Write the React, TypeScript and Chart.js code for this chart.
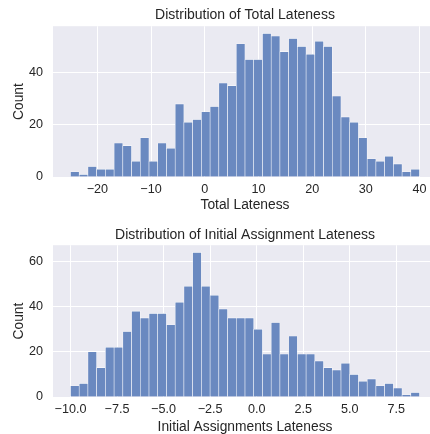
import React, { useEffect, useRef } from "react";
import { Chart, registerables } from "chart.js";

Chart.register(...registerables);

// ---- Data: Total Lateness histogram ----
const TOTAL_COUNTS = [
  2, 1, 4, 3, 3, 13, 12, 6, 15, 6, 13, 11, 28, 21, 22, 25, 27, 36, 35, 51,
  45, 45, 55, 54, 48, 53, 50, 47, 52, 50, 31, 23, 21, 15, 7, 6, 8, 5, 2, 3,
];
const TOTAL_BIN_START = -25;
const TOTAL_BIN_END = 40;
const TOTAL_X_TICKS = [-20, -10, 0, 10, 20, 30, 40];
const TOTAL_X_LABELS = ["\u221220", "\u221210", "0", "10", "20", "30", "40"];
const TOTAL_Y_TICKS = [0, 20, 40];
const TOTAL_Y_LABELS = ["0", "20", "40"];

// ---- Data: Initial Assignment Lateness histogram ----
const INITIAL_COUNTS = [
  5, 6, 20, 13, 22, 22, 29, 38, 35, 37, 37, 32, 42, 49, 64, 49, 45, 39, 35, 35,
  35, 30, 19, 33, 19, 27, 19, 19, 16, 13, 12, 15, 10, 7, 8, 5, 6, 4, 1, 2,
];
const INITIAL_BIN_START = -10;
const INITIAL_BIN_END = 8.75;
const INITIAL_X_TICKS = [-10, -7.5, -5, -2.5, 0, 2.5, 5, 7.5];
const INITIAL_X_LABELS = ["\u221210.0", "\u22127.5", "\u22125.0", "\u22122.5", "0.0", "2.5", "5.0", "7.5"];
const INITIAL_Y_TICKS = [0, 20, 40, 60];
const INITIAL_Y_LABELS = ["0", "20", "40", "60"];

const FONT = "'Liberation Sans', Arial, Helvetica, sans-serif";
const TEXT = "#262626";
const BG = "#eaeaf2";
const BAR = "rgb(106,137,192)";

const bgPlugin = {
  id: "plotBg",
  beforeDraw(chart: any) {
    const { ctx, chartArea } = chart;
    if (!chartArea) return;
    ctx.save();
    ctx.fillStyle = BG;
    ctx.fillRect(chartArea.left, chartArea.top, chartArea.right - chartArea.left, chartArea.bottom - chartArea.top);
    ctx.restore();
  },
};

type HistProps = {
  counts: number[];
  binStart: number;
  binEnd: number;
  xTicks: number[];
  xLabels: string[];
  yTicks: number[];
  yLabels: string[];
  title: string;
  xTitle: string;
  width: number;
  height: number;
  titlePad: { top: number; bottom: number };
  xScaleHeight: number;
  xTitlePadBottom: number;
};

function Histogram(p: HistProps) {
  const ref = useRef<HTMLCanvasElement | null>(null);
  useEffect(() => {
    if (!ref.current) return;
    const n = p.counts.length;
    const w = (p.binEnd - p.binStart) / n;
    const data = p.counts.map((c, i) => ({ x: p.binStart + (i + 0.5) * w, y: c }));
    const span = p.binEnd - p.binStart;
    const xMin = p.binStart - span * 0.05;
    const xMax = p.binEnd + span * 0.05;
    const yMax = Math.max(...p.counts) * 1.05;
    const chart = new Chart(ref.current, {
      type: "bar",
      data: {
        datasets: [
          {
            data,
            backgroundColor: BAR,
            borderColor: "rgba(255,255,255,0.85)",
            borderWidth: 0.6,
            barPercentage: 1,
            categoryPercentage: 1,
          } as any,
        ],
      },
      options: {
        animation: false,
        responsive: false,
        devicePixelRatio: 1,
        layout: { padding: { left: 0, right: 3, top: 0, bottom: 0 } },
        plugins: {
          legend: { display: false },
          tooltip: { enabled: false },
          title: {
            display: true,
            fullSize: false,
            text: p.title,
            color: TEXT,
            font: { family: FONT, size: 14, weight: "normal" },
            padding: p.titlePad,
          },
        },
        scales: {
          x: {
            type: "linear",
            min: xMin,
            max: xMax,
            offset: false,
            grid: { color: "#ffffff", lineWidth: 1, drawTicks: false, offset: false },
            border: { display: false },
            afterBuildTicks: (s: any) => {
              s.ticks = p.xTicks.map((v) => ({ value: v }));
            },
            afterFit: (s: any) => {
              s.height = p.xScaleHeight;
            },
            ticks: {
              autoSkip: false,
              maxRotation: 0,
              padding: 5.4,
              color: TEXT,
              font: { family: FONT, size: 12.6 },
              callback: (_v: any, i: number) => p.xLabels[i],
            },
            title: {
              display: true,
              text: p.xTitle,
              color: TEXT,
              font: { family: FONT, size: 13.8 },
              padding: { top: 0, bottom: p.xTitlePadBottom },
            },
          },
          y: {
            type: "linear",
            min: 0,
            max: yMax,
            grid: { color: "#ffffff", lineWidth: 1, drawTicks: false },
            border: { display: false },
            afterBuildTicks: (s: any) => {
              s.ticks = p.yTicks.map((v) => ({ value: v }));
            },
            afterFit: (s: any) => {
              s.width = 53;
            },
            ticks: {
              padding: 10,
              color: TEXT,
              font: { family: FONT, size: 12.6 },
              callback: (_v: any, i: number) => p.yLabels[i],
            },
            title: {
              display: true,
              text: "Count",
              color: TEXT,
              font: { family: FONT, size: 13.8 },
              padding: { top: 11.2, bottom: 0 },
            },
          },
        },
      } as any,
      plugins: [bgPlugin],
    });
    return () => chart.destroy();
  }, []);
  return (
    <canvas
      ref={ref}
      width={p.width}
      height={p.height}
      style={{ width: p.width, height: p.height, display: "block" }}
    />
  );
}

export default function App() {
  useEffect(() => {
    document.body.style.margin = "0";
    document.body.style.overflow = "hidden";
    document.body.style.background = "#ffffff";
  }, []);
  return (
    <div>
      <div style={{ position: "fixed", left: 0, top: 0 }}>
        <Histogram
          counts={TOTAL_COUNTS}
          binStart={TOTAL_BIN_START}
          binEnd={TOTAL_BIN_END}
          xTicks={TOTAL_X_TICKS}
          xLabels={TOTAL_X_LABELS}
          yTicks={TOTAL_Y_TICKS}
          yLabels={TOTAL_Y_LABELS}
          title="Distribution of Total Lateness"
          xTitle="Total Lateness"
          width={440}
          height={217}
          titlePad={{ top: 6.7, bottom: 2.7 }}
          xScaleHeight={40}
          xTitlePadBottom={4}
        />
      </div>
      <div style={{ position: "fixed", left: 0, top: 217 }}>
        <Histogram
          counts={INITIAL_COUNTS}
          binStart={INITIAL_BIN_START}
          binEnd={INITIAL_BIN_END}
          xTicks={INITIAL_X_TICKS}
          xLabels={INITIAL_X_LABELS}
          yTicks={INITIAL_Y_TICKS}
          yLabels={INITIAL_Y_LABELS}
          title="Distribution of Initial Assignment Lateness"
          xTitle="Initial Assignments Lateness"
          width={440}
          height={225}
          titlePad={{ top: 9.7, bottom: 1.7 }}
          xScaleHeight={45}
          xTitlePadBottom={6.7}
        />
      </div>
    </div>
  );
}
